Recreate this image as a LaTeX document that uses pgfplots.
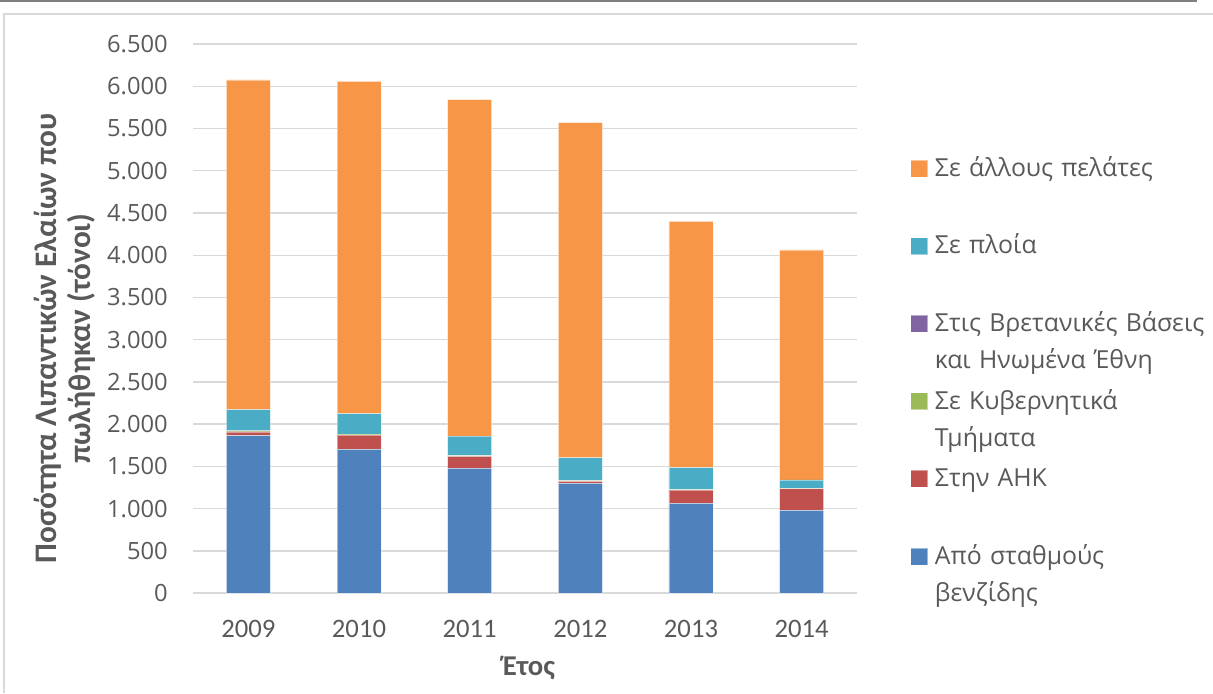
\documentclass[border=0pt]{standalone}
\usepackage{fontspec}
\setmainfont{Open Sans}
\newfontfamily\calibri{Carlito}
\usepackage{pgfplots}
\usepackage{pgfplotstable}
\pgfplotsset{compat=1.18}

\definecolor{cBlue}{HTML}{4F81BD}
\definecolor{cRed}{HTML}{C0504D}
\definecolor{cGreen}{HTML}{9BBB59}
\definecolor{cPurple}{HTML}{8064A2}
\definecolor{cTeal}{HTML}{4BACC6}
\definecolor{cOrange}{HTML}{F79646}
\definecolor{txt}{HTML}{595959}
\definecolor{gridc}{HTML}{D9D9D9}
\definecolor{topline}{HTML}{7F7F7F}

% Lubricant oil sales (tonnes) by channel, 2009-2014
\pgfplotstableread{
idx stations ahk gov bases ships others
0   1866     43  10  2     253   3900
1   1701     171 10  2     242   3932
2   1476     142 8   2     230   3985
3   1299     24  8   2     269   3968
4   1063     157 5   2     258   2917
5   980      255 5   2     98    2722
}\sales

\begin{document}
\begin{tikzpicture}
\useasboundingbox (0pt,0pt) rectangle (909.75pt,519.75pt);
% outer frame
\draw[topline, line width=1.5pt] (0pt,519pt) -- (897.75pt,519pt);
\draw[gridc, line width=1.1pt] (3pt,0pt) -- (3pt,509.25pt) -- (909.75pt,509.25pt);

\begin{axis}[
  at={(144.75pt,74.85pt)}, anchor=south west,
  scale only axis, width=498pt, height=411.9pt,
  ybar stacked, bar width=33pt,
  xmin=-0.5, xmax=5.5, ymin=0, ymax=6500,
  xtick={0,...,5},
  xticklabels={2009,2010,2011,2012,2013,2014},
  ytick={0,500,...,6500},
  axis line style={draw=none},
  major tick length=0pt,
  ymajorgrids, grid style={gridc, line width=1.1pt},
  /pgf/number format/.cd, 1000 sep={.}, assume math mode=true,
  /pgfplots/.cd,
  scaled y ticks=false,
  xticklabel style={font=\calibri\fontsize{20}{24}\selectfont, text=txt,
    anchor=base, yshift=-32.85pt, inner sep=0pt},
  yticklabel style={font=\fontsize{17.8}{20}\selectfont, text=txt,
    anchor=east, xshift=-18.75pt, inner sep=0pt},
  every axis x label/.style={at={(rel axis cs:0.506,-0.1362)}, anchor=center,
    font=\calibri\bfseries\fontsize{21.5}{25}\selectfont, text=txt},
  every axis y label/.style={at={(rel axis cs:-0.1925,0.4640)}, anchor=center,
    rotate=90, align=center,
    font=\calibri\bfseries\fontsize{23.5}{25.5}\selectfont, text=txt},
  xlabel={Έτος},
  ylabel={Ποσότητα Λιπαντικών Ελαίων που\\πωλήθηκαν (τόνοι)},
  every axis plot post/.append style={
    draw=white, draw opacity=0.45, line width=0.6pt,
    /pgfplots/legend image code/.code={\fill[##1] (0pt,-0.5pt) rectangle (12.75pt,12.25pt);}},
  reverse legend,
  legend style={at={(rel axis cs:1.0798,0.7984)}, anchor=north west,
    draw=none, fill=none, inner sep=0pt, row sep=0.2pt, column sep=3.2pt,
    cells={anchor=base west},
    nodes={text width=215pt, align=left, text height=14pt, text depth=40pt,
      inner sep=2pt, font=\fontsize{18.6}{27.75}\selectfont, text=txt}},
]
\addplot[fill=cBlue]   table[x=idx, y=stations] {\sales};
\addplot[fill=cRed]    table[x=idx, y=ahk]      {\sales};
\addplot[fill=cGreen]  table[x=idx, y=gov]      {\sales};
\addplot[fill=cPurple] table[x=idx, y=bases]    {\sales};
\addplot[fill=cTeal]   table[x=idx, y=ships]    {\sales};
\addplot[fill=cOrange] table[x=idx, y=others]   {\sales};
\legend{Από σταθμούς\\βενζίδης, Στην ΑΗΚ, Σε Κυβερνητικά\\Τμήματα,
  Στις Βρετανικές Βάσεις\\και Ηνωμένα Έθνη, Σε πλοία, Σε άλλους πελάτες}
\end{axis}
\end{tikzpicture}
\end{document}
